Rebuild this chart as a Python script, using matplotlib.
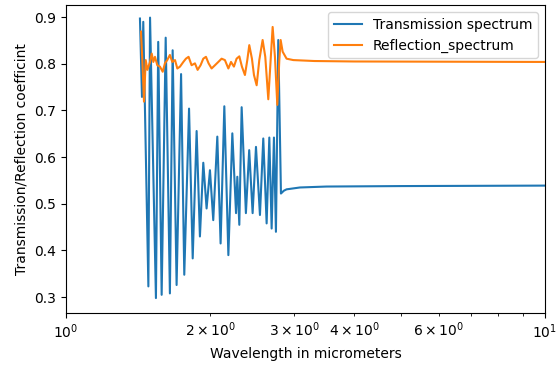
import matplotlib
matplotlib.use("Agg")
import matplotlib.pyplot as plt

# Transmission spectrum (wavelength in micrometers, coefficient)
trans_wl = [1.427, 1.441, 1.450, 1.486, 1.498, 1.541, 1.558, 1.584, 1.615, 1.648,
            1.670, 1.702, 1.739, 1.766, 1.807, 1.839, 1.874, 1.904, 1.935, 1.966,
            1.998, 2.030, 2.070, 2.103, 2.141, 2.183, 2.225, 2.265, 2.279, 2.301,
            2.327, 2.375, 2.413, 2.453, 2.493, 2.541, 2.582, 2.624, 2.658, 2.688,
            2.718, 2.744, 2.775, 2.811, 2.850, 2.888, 3.08, 3.5, 5.0, 10.0]
trans_val = [0.897, 0.729, 0.890, 0.323, 0.899, 0.298, 0.847, 0.305, 0.856, 0.308,
             0.829, 0.326, 0.778, 0.348, 0.704, 0.383, 0.656, 0.430, 0.588, 0.490,
             0.572, 0.465, 0.644, 0.415, 0.709, 0.390, 0.651, 0.480, 0.558, 0.455,
             0.707, 0.480, 0.615, 0.480, 0.622, 0.476, 0.640, 0.458, 0.642, 0.447,
             0.642, 0.440, 0.851, 0.522, 0.528, 0.531, 0.535, 0.537, 0.538, 0.539]

# Reflection spectrum
refl_wl = [1.434, 1.443, 1.455, 1.467, 1.479, 1.498, 1.510, 1.522, 1.534, 1.551,
           1.571, 1.592, 1.609, 1.627, 1.648, 1.667, 1.689, 1.708, 1.730, 1.758,
           1.780, 1.803, 1.829, 1.859, 1.883, 1.910, 1.935, 1.960, 1.985, 2.014,
           2.047, 2.080, 2.113, 2.147, 2.183, 2.211, 2.242, 2.271, 2.301, 2.330,
           2.364, 2.391, 2.414, 2.445, 2.469, 2.501, 2.533, 2.574, 2.607, 2.645,
           2.675, 2.701, 2.731, 2.762, 2.789, 2.807, 2.834, 2.888, 2.983, 3.3,
           4.0, 10.0]
refl_val = [0.869, 0.811, 0.719, 0.808, 0.787, 0.804, 0.822, 0.804, 0.815, 0.797,
            0.794, 0.783, 0.801, 0.808, 0.819, 0.804, 0.808, 0.790, 0.794, 0.804,
            0.811, 0.815, 0.797, 0.801, 0.787, 0.797, 0.811, 0.815, 0.801, 0.790,
            0.797, 0.804, 0.811, 0.808, 0.790, 0.804, 0.794, 0.811, 0.816, 0.794,
            0.776, 0.808, 0.840, 0.811, 0.776, 0.754, 0.808, 0.851, 0.815, 0.724,
            0.808, 0.879, 0.815, 0.712, 0.808, 0.851, 0.826, 0.811, 0.808, 0.806,
            0.805, 0.804]

fig = plt.figure(figsize=(5.56, 3.66), dpi=100)
ax = fig.add_axes([0.1187, 0.1448, 0.8613, 0.8415])

ax.plot(trans_wl, trans_val, label="Transmission spectrum")
ax.plot(refl_wl, refl_val, label="Reflection_spectrum")
ax.set_xscale("log")
ax.set_xlim(1, 10)
ax.set_ylim(0.266, 0.926)
ax.set_xlabel("Wavelength in micrometers")
ax.set_ylabel("Transmission/Reflection coefficint")
ax.legend(loc="upper right")

fig.savefig("out.png", dpi=100)
